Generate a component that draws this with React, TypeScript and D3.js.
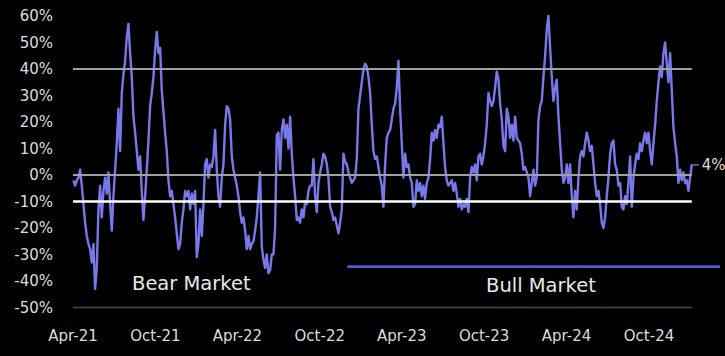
import React from "react";
import * as d3 from "d3";

// Series values (% deviation), evenly spaced in time
const segment2021 = [
  -2, -4, -2, -1, 2, -4, -11, -18, -23, -26, -28, -33, -26, -43, -35, -13, -4, -16, -6, -1,
  -7, 1, -11, -21, -8, 2, 12, 25, 9, 31, 38, 43, 52, 57, 46, 37, 22, 16, 9, 2,
  7, -6, -17, -8, 2, 13, 26, 31, 37, 47, 54, 46, 48, 32, 24, 16, 9, -2, -8, -6,
  -11, -16, -22, -28, -26, -18, -13, -6, -8, -6, -13, -7, -11, -6, -31, -26, -13, -23, -11, 4,
  6, -1, 4, 3, 7, 17, 2, -8, -12, -1, 4, 19, 26, 25, 21,
];
const segment2022 = [
  7, 2, -1, -4, -8, -14, -18, -16, -21, -28, -23, -28, -26, -25, -21, -16, -8, 1, -27, -32,
  -35, -30, -37, -36, -30, -30, -20, 15, 16, 2, 17, 21, 14, 19, 10, 22, 8, -1, -8, -17,
  -16, -18, -13, -16, -10, -11, -6, -4, -4, 6, -8, -14, -3, 1, 4, 8, 7, 4, -1, -12,
  -14, -17, -16, -19, -22, -18, -13, 8, 5, 4, 1, -1, -3, -2, -1, 6, 25, 30, 35, 40,
  42, 41, 37, 31, 19, 9, 6, 7, 3, -1, -4, -12, 4,
];
const segment2023 = [
  14, 16, 17, 21, 25, 27, 33, 43, 25, 12, -1, 8, 3, 4, -1, -3, -12, -11, -2, -6,
  -3, -8, -4, -9, -3, -1, 6, 16, 13, 17, 14, 19, 18, 22, 12, 3, -2, -4, -3, -2,
  -6, -3, -7, -12, -9, -13, -11, -12, -9, -14, -1, 3, 1, 4, -2, 7, 8, 4, 7, 12,
  19, 31, 28, 26, 28, 33, 39, 36, 27, 21, 11, 9, 25, 22, 14, 19, 13, 22, 14, 13,
  12, 8, 2, 3, 1, -1, -8, -3, 2, -4, -1, 21, 26,
];
const segment2024 = [
  28, 37, 45, 55, 60, 48, 37, 28, 33, 36, 22, 12, 2, -3, -1, 4, -3, 4, -8, -16,
  -6, -13, -1, 7, 9, 7, 12, 16, 13, 9, 11, 4, -3, -8, -6, -11, -18, -20, -16, -8,
  -1, 8, 12, 13, 4, 2, -4, -3, -12, -13, -8, -11, -3, 7, -12, -1, 4, 8, 6, 12,
  9, 13, 16, 12, 16, 9, 4, 12, 19, 28, 35, 41, 37, 46, 50, 42, 35, 46, 32, 18,
  12, 7, -3, 2, -2, 1, -3, -2, -6, -1, 4,
];
const seriesStart = "2021-04-02";
const seriesEnd = "2025-01-04";

const yTicks = [60, 50, 40, 30, 20, 10, 0, -10, -20, -30, -40, -50];
const xTickLabels = ["Apr-21", "Oct-21", "Apr-22", "Oct-22", "Apr-23", "Oct-23", "Apr-24", "Oct-24"];
const xTickDates = ["2021-04-01", "2021-10-01", "2022-04-01", "2022-10-01", "2023-04-01", "2023-10-01", "2024-04-01", "2024-10-01"];
const gridValues = [40, 0];
const thresholdValue = -10;
const lastLabel = "4%";
const bearLabel = "Bear Market";
const bullLabel = "Bull Market";
const bullStart = "2022-12-01";
const bullEnd = "2025-03-08";

export default function App() {
  const W = 725;
  const H = 356;
  const parse = d3.utcParse("%Y-%m-%d");
  const x = d3
    .scaleUtc()
    .domain([parse(xTickDates[0])!, parse(xTickDates[7])!])
    .range([73, 649]);
  const y = d3.scaleLinear().domain([-50, 60]).range([307.5, 16]);

  const values = [...segment2021, ...segment2022, ...segment2023, ...segment2024];
  const t0 = parse(seriesStart)!.getTime();
  const t1 = parse(seriesEnd)!.getTime();
  const n = values.length;
  const data = values.map((v, i) => ({
    date: new Date(t0 + ((t1 - t0) * i) / (n - 1)),
    value: v,
  }));

  const line = d3
    .line<{ date: Date; value: number }>()
    .x((d) => x(d.date))
    .y((d) => y(d.value));

  const x0 = x(parse(xTickDates[0])!);
  const xEnd = x(parse(seriesEnd)!);
  const last = data[data.length - 1];
  const font = "'DejaVu Sans', sans-serif";
  const textColor = "#dcdcdc";

  return (
    <div style={{ position: "fixed", left: 0, top: 0, width: W, height: H, background: "#000" }}>
      <svg width={W} height={H} style={{ display: "block", background: "#000" }}>
        {/* bottom axis line */}
        <line x1={x0} x2={xEnd} y1={y(-50)} y2={y(-50)} stroke="#4a4a4a" strokeWidth={1.4} />
        {/* data line */}
        <path d={line(data) || ""} fill="none" stroke="#7878ea" strokeWidth={2.4} strokeLinejoin="round" />
        {/* grid lines */}
        {gridValues.map((g) => (
          <line key={g} x1={x0} x2={xEnd} y1={y(g)} y2={y(g)} stroke="#a0a0a0" strokeWidth={2} />
        ))}
        {/* threshold */}
        <line x1={x0} x2={xEnd} y1={y(thresholdValue)} y2={y(thresholdValue)} stroke="#ffffff" strokeWidth={2.5} />
        {/* bull market bar */}
        <line
          x1={x(parse(bullStart)!)}
          x2={x(parse(bullEnd)!)}
          y1={266.7}
          y2={266.7}
          stroke="#5555d6"
          strokeWidth={2.8}
        />
        {/* y tick labels */}
        {yTicks.map((t) => (
          <text
            key={t}
            x={53}
            y={y(t)}
            dy="0.36em"
            textAnchor="end"
            fontFamily={font}
            fontSize={15}
            fill={textColor}
          >
            {`${t}%`}
          </text>
        ))}
        {/* x tick labels */}
        {xTickLabels.map((l, i) => (
          <text
            key={l}
            x={x(parse(xTickDates[i])!)}
            y={340.5}
            textAnchor="middle"
            fontFamily={font}
            fontSize={15}
            fill={textColor}
          >
            {l}
          </text>
        ))}
        {/* last value annotation */}
        <line x1={xEnd + 1} x2={xEnd + 7} y1={y(last.value) + 0.5} y2={y(last.value) + 0.5} stroke="#999" strokeWidth={1.2} />
        <text x={xEnd + 10} y={y(last.value)} dy="0.36em" fontFamily={font} fontSize={15} fill={textColor}>
          {lastLabel}
        </text>
        <text x={132} y={290} fontFamily={font} fontSize={19.5} fill="#e8e8e8">
          {bearLabel}
        </text>
        <text x={486} y={291.5} fontFamily={font} fontSize={19.5} fill="#e8e8e8">
          {bullLabel}
        </text>
      </svg>
    </div>
  );
}
